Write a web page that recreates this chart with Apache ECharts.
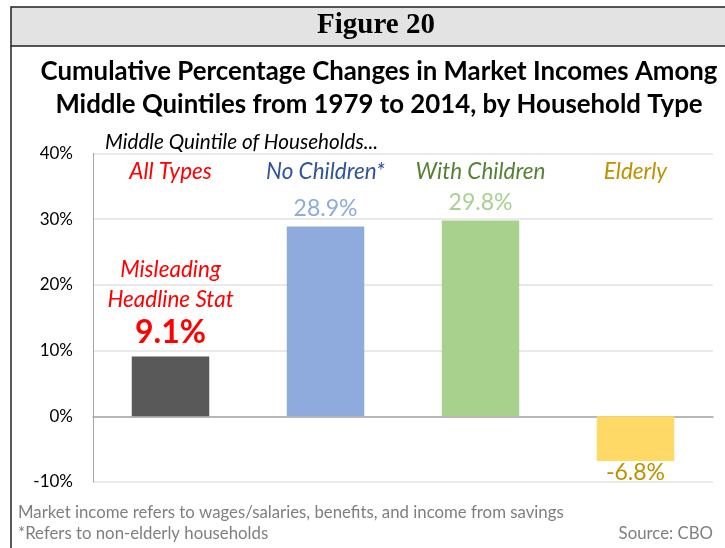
<!DOCTYPE html>
<html>
<head>
<meta charset="utf-8">
<script src="https://cdn.jsdelivr.net/npm/echarts@6/dist/echarts.min.js"></script>
<style>
  html, body { margin: 0; padding: 0; background: #fff; }
  #chart { width: 725px; height: 548px; }
</style>
</head>
<body>
<div id="chart"></div>
<script>
const chart = echarts.init(document.getElementById("chart"));

// data
const categories = ["All Types", "No Children*", "With Children", "Elderly"];
const values = [9.1, 28.9, 29.8, -6.8];
const barColors = ["#595959", "#8faadc", "#a9d18e", "#ffd966"];
const nameColors = ["#ff0000", "#2f5597", "#548235", "#bf9000"];
const valueColors = ["#ff0000", "#8faadc", "#a9d18e", "#bf9000"];
const yTicks = { min: -10, max: 40, step: 10 };

const font = "Lato";

const barData = values.map((v, i) => {
  const item = { value: v, itemStyle: { color: barColors[i] } };
  if (i === 0) {
    // the "headline" bar gets the big red annotation
    item.label = {
      show: true,
      position: "top",
      distance: 6,
      formatter: "{a|Misleading}\n{a|Headline Stat}\n{b|" + v.toFixed(1) + "%}",
      rich: {
        a: { color: "#ff0000", fontStyle: "italic", fontSize: 22.5, fontFamily: font, lineHeight: 30, align: "center" },
        b: { color: "#ff0000", fontWeight: "bold", fontSize: 32, fontFamily: font, lineHeight: 36, align: "center" },
      },
    };
  } else {
    item.label = {
      show: true,
      position: v < 0 ? "bottom" : "top",
      distance: v < 0 ? 0 : 6,
      formatter: (p) => p.value.toFixed(1) + "%",
      color: valueColors[i],
      fontSize: 23,
      fontFamily: font,
    };
  }
  return item;
});

const option = {
  animation: false,
  backgroundColor: "#fff",
  graphic: [
    // header band + frame
    { type: "rect", shape: { x: 11, y: 7, width: 720, height: 39 }, style: { fill: "#e3e3e3", stroke: "#222", lineWidth: 1.5 } },
    { type: "line", shape: { x1: 11, y1: 46, x2: 11, y2: 548 }, style: { stroke: "#222", lineWidth: 1.5 } },
  ],
  title: [
    {
      text: "Figure 20",
      left: 371, top: 6, textAlign: "center",
      textStyle: { fontFamily: "Liberation Serif", fontWeight: "bold", fontSize: 29, color: "#000" },
    },
    {
      text: "Cumulative Percentage Changes in Market Incomes Among\nMiddle Quintiles from 1979 to 2014, by Household Type",
      left: 374, top: 50, textAlign: "center",
      textStyle: { fontFamily: font, fontWeight: "bold", fontSize: 25.8, lineHeight: 33, color: "#000" },
    },
    {
      text: "Middle Quintile of Households...",
      left: 100, top: 127,
      textStyle: { fontFamily: font, fontStyle: "italic", fontWeight: "normal", fontSize: 20.7, color: "#000" },
    },
    {
      text: "Market income refers to wages/salaries, benefits, and income from savings",
      left: 13, top: 499,
      textStyle: { fontFamily: font, fontWeight: "normal", fontSize: 16.8, color: "#7f7f7f" },
    },
    {
      text: "*Refers to non-elderly households",
      left: 13, top: 520,
      textStyle: { fontFamily: font, fontWeight: "normal", fontSize: 16.8, color: "#7f7f7f" },
    },
    {
      text: "Source: CBO",
      right: 7, top: 520,
      textStyle: { fontFamily: font, fontWeight: "normal", fontSize: 16.8, color: "#7f7f7f" },
    },
  ],
  grid: { left: 93, right: 12, top: 153.5, bottom: 66, containLabel: false },
  xAxis: [
    {
      type: "category",
      data: categories,
      axisLine: { lineStyle: { color: "#a6a6a6", width: 1.5 } },
      axisTick: { show: false },
      axisLabel: { show: false },
    },
    {
      type: "category",
      data: categories,
      position: "top",
      offset: -30,
      axisLine: { show: false },
      axisTick: { show: false },
      axisLabel: {
        margin: 0,
        formatter: (val, idx) => "{c" + idx + "|" + val + "}",
        rich: Object.fromEntries(nameColors.map((c, i) => ["c" + i, { color: c, fontStyle: "italic", fontSize: 22.5, fontFamily: font }])),
      },
    },
  ],
  yAxis: {
    type: "value",
    min: yTicks.min,
    max: yTicks.max,
    interval: yTicks.step,
    axisLine: { show: true, lineStyle: { color: "#a6a6a6" } },
    axisTick: { show: false },
    axisLabel: { formatter: "{value}%", color: "#000", fontSize: 17, fontFamily: font, margin: 20 },
    splitLine: { lineStyle: { color: "#e3e3e3", width: 1.5 } },
  },
  series: [
    {
      type: "bar",
      barWidth: "50%",
      data: barData,
    },
  ],
};

chart.setOption(option);
</script>
</body>
</html>
